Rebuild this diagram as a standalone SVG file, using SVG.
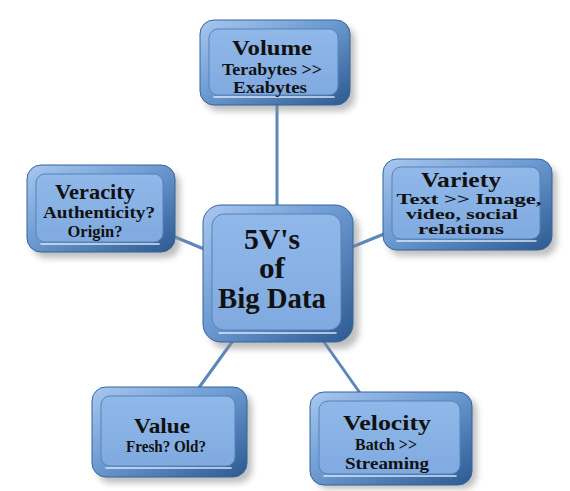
<svg xmlns="http://www.w3.org/2000/svg" width="570" height="491" viewBox="0 0 570 491">
<defs>
<linearGradient id="frame" x1="0" y1="0" x2="1" y2="1">
<stop offset="0" stop-color="#a8c8ef"/>
<stop offset="0.45" stop-color="#6e9bd2"/>
<stop offset="1" stop-color="#2c5990"/>
</linearGradient>
<linearGradient id="face" x1="0" y1="0" x2="0" y2="1">
<stop offset="0" stop-color="#90b8e9"/>
<stop offset="1" stop-color="#80aae0"/>
</linearGradient>
<filter id="shadow" x="-20%" y="-20%" width="140%" height="140%">
<feGaussianBlur stdDeviation="3"/>
</filter>
<style>
.bg{fill:#ffffff}
.sh{fill:#8a8a8a;opacity:0.55;filter:url(#shadow)}
.frame{fill:url(#frame);stroke:#35649c;stroke-width:1}
.face{fill:url(#face);stroke:#5583bd;stroke-width:1}
.hl{fill:none;stroke:#e8f1fc;stroke-width:1.6;stroke-linecap:round;opacity:0.9}
.conn line{stroke:#5b88bb;stroke-width:3;stroke-linecap:round}
text{font-family:"Liberation Serif","DejaVu Serif",serif;font-weight:bold;fill:#111111;text-anchor:middle}
.t1{font-size:22px}
.t2{font-size:17px}
.t3{font-size:15px}
.tc{font-size:29px}
</style>
</defs>
<rect class="bg" x="0" y="0" width="570" height="491"/>
<g id="connectors" class="conn">
<line x1="277" y1="105" x2="277" y2="205"/>
<line x1="175" y1="237" x2="204" y2="249"/>
<line x1="384" y1="234" x2="352" y2="247"/>
<line x1="232" y1="342" x2="198" y2="389"/>
<line x1="324" y1="342" x2="360" y2="393"/>
</g>
<g id="volume">
<rect class="sh" x="205" y="26" width="150" height="85" rx="14"/>
<rect class="frame" x="200" y="20" width="150" height="85" rx="14"/>
<rect class="face" x="209" y="29" width="129" height="66" rx="9"/>
<line class="hl" x1="214" y1="97" x2="334" y2="97"/>
<text class="t1" x="272" y="55" textLength="80" lengthAdjust="spacingAndGlyphs">Volume</text>
<text class="t2" x="272" y="75" textLength="100" lengthAdjust="spacingAndGlyphs">Terabytes &gt;&gt;</text>
<text class="t2" x="270" y="93" textLength="74" lengthAdjust="spacingAndGlyphs">Exabytes</text>
</g>
<g id="veracity">
<rect class="sh" x="32" y="171" width="148" height="87" rx="14"/>
<rect class="frame" x="27" y="165" width="148" height="87" rx="14"/>
<rect class="face" x="36" y="174" width="127" height="68" rx="9"/>
<line class="hl" x1="41" y1="244" x2="159" y2="244"/>
<text class="t1" x="95" y="199" textLength="80" lengthAdjust="spacingAndGlyphs">Veracity</text>
<text class="t2" x="99" y="218" textLength="112" lengthAdjust="spacingAndGlyphs">Authenticity?</text>
<text class="t2" x="95" y="237" textLength="55" lengthAdjust="spacingAndGlyphs">Origin?</text>
</g>
<g id="variety">
<rect class="sh" x="388" y="165" width="169" height="91" rx="14"/>
<rect class="frame" x="383" y="159" width="169" height="91" rx="14"/>
<rect class="face" x="392" y="167" width="148" height="72" rx="9"/>
<line class="hl" x1="397" y1="241" x2="536" y2="241"/>
<text class="t1" x="461" y="187" textLength="80" lengthAdjust="spacingAndGlyphs">Variety</text>
<text class="t3" x="469" y="204" textLength="145" lengthAdjust="spacingAndGlyphs">Text &gt;&gt; Image,</text>
<text class="t3" x="462" y="219" textLength="112" lengthAdjust="spacingAndGlyphs">video, social</text>
<text class="t3" x="461" y="234" textLength="86" lengthAdjust="spacingAndGlyphs">relations</text>
</g>
<g id="center">
<rect class="sh" x="209" y="212" width="150" height="137" rx="18"/>
<rect class="frame" x="203" y="205" width="150" height="137" rx="18"/>
<rect class="face" x="212" y="214" width="129" height="116" rx="12"/>
<line class="hl" x1="219" y1="333" x2="336" y2="333"/>
<text class="tc" x="272" y="249" textLength="56" lengthAdjust="spacingAndGlyphs">5V's</text>
<text class="tc" x="272" y="278" textLength="26" lengthAdjust="spacingAndGlyphs">of</text>
<text class="tc" x="272" y="308" textLength="108" lengthAdjust="spacingAndGlyphs">Big Data</text>
</g>
<g id="value">
<rect class="sh" x="97" y="393" width="155" height="90" rx="14"/>
<rect class="frame" x="92" y="387" width="155" height="90" rx="14"/>
<rect class="face" x="101" y="396" width="134" height="70" rx="9"/>
<line class="hl" x1="106" y1="468" x2="231" y2="468"/>
<text class="t1" x="162" y="433" textLength="56" lengthAdjust="spacingAndGlyphs">Value</text>
<text class="t2" x="166" y="452" textLength="80" lengthAdjust="spacingAndGlyphs">Fresh? Old?</text>
</g>
<g id="velocity">
<rect class="sh" x="315" y="397" width="162" height="92" rx="14"/>
<rect class="frame" x="310" y="392" width="162" height="93" rx="14"/>
<rect class="face" x="319" y="401" width="141" height="73" rx="9"/>
<line class="hl" x1="324" y1="476" x2="456" y2="476"/>
<text class="t1" x="387" y="430" textLength="88" lengthAdjust="spacingAndGlyphs">Velocity</text>
<text class="t2" x="386" y="450" textLength="62" lengthAdjust="spacingAndGlyphs">Batch &gt;&gt;</text>
<text class="t2" x="387" y="469" textLength="84" lengthAdjust="spacingAndGlyphs">Streaming</text>
</g>
</svg>
